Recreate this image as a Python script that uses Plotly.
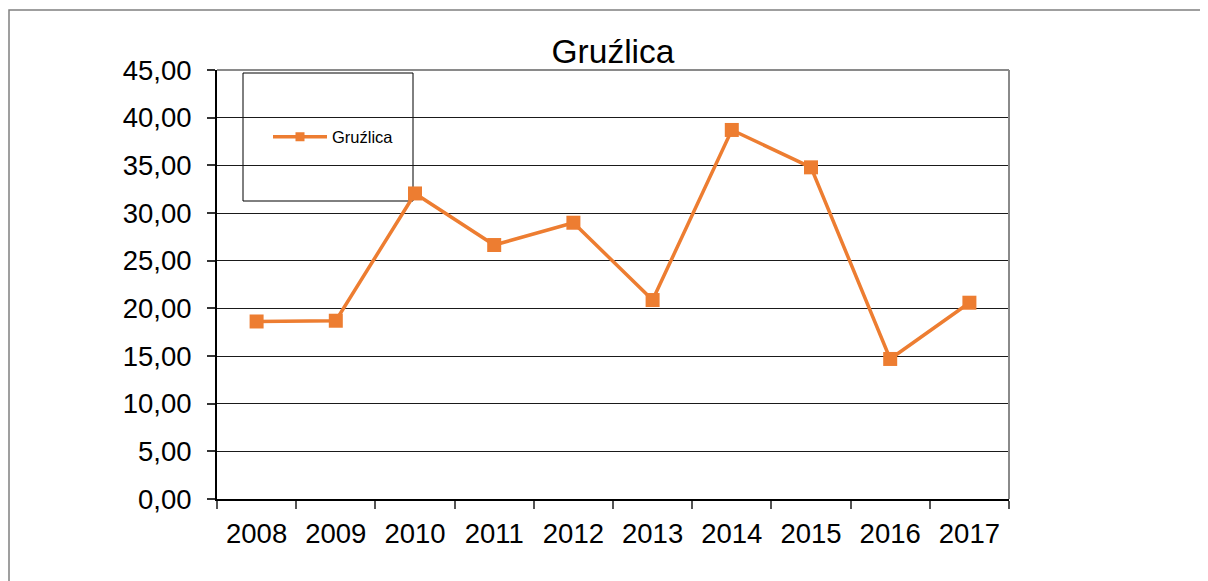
import plotly.graph_objects as go

years = ["2008", "2009", "2010", "2011", "2012", "2013", "2014", "2015", "2016", "2017"]
values = [18.62, 18.70, 32.05, 26.64, 28.98, 20.87, 38.71, 34.79, 14.69, 20.59]
series_name = "Gruźlica"
title_text = "Gruźlica"
y_ticks = [0, 5, 10, 15, 20, 25, 30, 35, 40, 45]

OFF = 8  # page body margin
W, H = 1208 - OFF, 581 - OFF
L, R, T, B = 217 - OFF, 1009 - OFF, 70 - OFF, 499 - OFF
pw, ph = R - L, B - T

def px(x):
    return (x - OFF - L) / pw

def py(y):
    return (B - (y - OFF)) / ph

orange = "#ED7D31"
font_family = "Liberation Sans, Arial, sans-serif"

fig = go.Figure()
fig.add_trace(go.Scatter(
    x=years, y=values, name=series_name, mode="lines+markers",
    line=dict(color=orange, width=3.5),
    marker=dict(symbol="square", size=14, color=orange),
    showlegend=False,
))
# legend entry (no data; smaller marker as in the reference legend)
fig.add_trace(go.Scatter(
    x=[None], y=[None], name=series_name, mode="lines+markers",
    line=dict(color=orange, width=3.5),
    marker=dict(symbol="square", size=9, color=orange),
    showlegend=True,
))

fig.update_layout(
    width=W, height=H,
    margin=dict(l=L, r=W - R, t=T, b=H - B, pad=0),
    paper_bgcolor="white", plot_bgcolor="white",
    separators=", ",
    font=dict(family=font_family, color="black"),
    title=dict(text=title_text, x=px(613), xref="paper", xanchor="center",
               y=1 - (51 - OFF) / H, yanchor="middle", font=dict(size=33.5, color="black")),
    showlegend=True,
    legend=dict(x=px(268), y=py(137), xanchor="left", yanchor="middle",
                bgcolor="rgba(0,0,0,0)", borderwidth=0,
                font=dict(size=16.5, color="black"), itemwidth=54),
    xaxis=dict(type="category", range=[-0.5, 9.5], tickson="boundaries",
               ticks="outside", ticklen=8, tickwidth=1.5, tickcolor="#555",
               showgrid=False, showline=True, linecolor="black", linewidth=2,
               tickfont=dict(size=27.5, color="black"), ticklabelstandoff=9,
               mirror=False, fixedrange=True),
    yaxis=dict(range=[0, 45], tickvals=y_ticks, tickformat=".2f",
               ticks="outside", ticklen=8, tickwidth=1.5, tickcolor="#333",
               showgrid=True, gridcolor="#1a1a1a", gridwidth=1,
               showline=True, linecolor="black", linewidth=2,
               zeroline=False,
               tickfont=dict(size=27.5, color="black"), ticklabelstandoff=10,
               fixedrange=True),
    shapes=[
        dict(type="line", xref="paper", yref="paper", x0=0, x1=1, y0=1, y1=1,
             line=dict(color="#8a8a8a", width=2), layer="above"),
        dict(type="line", xref="paper", yref="paper", x0=1, x1=1, y0=0, y1=1,
             line=dict(color="#8a8a8a", width=2), layer="above"),
        dict(type="rect", xref="paper", yref="paper",
             x0=px(243), x1=px(413), y0=py(201), y1=py(73),
             line=dict(color="black", width=1), fillcolor="white", layer="between"),
        dict(type="rect", xref="paper", yref="paper",
             x0=px(9), x1=px(1230), y0=py(600), y1=py(10),
             line=dict(color="#808080", width=1.5), fillcolor="rgba(0,0,0,0)", layer="above"),
    ],
)

fig.write_html("out.html")
